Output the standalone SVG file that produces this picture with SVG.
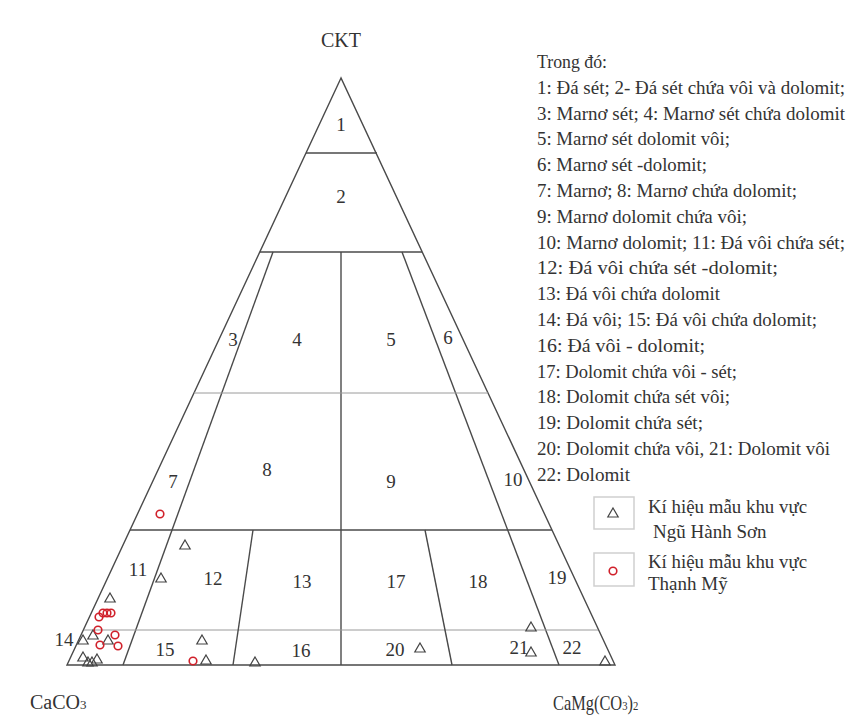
<svg xmlns="http://www.w3.org/2000/svg" xmlns:xlink="http://www.w3.org/1999/xlink" width="848" height="720" viewBox="0 0 848 720">
<style>
.ln{stroke:#4a4a4a;stroke-width:1.4;fill:none}
.lt{stroke:#9a9a9a;stroke-width:1;fill:none}
text{font-family:'Liberation Serif','Times New Roman',serif;fill:#333}
.num{font-size:19px;text-anchor:middle}
.lg{font-size:19px}
.ax{font-size:20px}
.tri{fill:none;stroke:#444;stroke-width:1.2}
.cir{fill:none;stroke:#d0202a;stroke-width:1.6}
.box{fill:#fff;stroke:#cfcfcf;stroke-width:1.5}
</style>
<defs>
<path id="t" d="M0,-5 L5.2,4 L-5.2,4 Z"/>
</defs>
<rect width="848" height="720" fill="#fff"/>
<g id="connectors">
<path class="ln" d="M341,78 L67,665 L615,665 Z"/>
<line class="ln" x1="306" y1="153" x2="377" y2="153"/>
<line class="ln" x1="260" y1="252" x2="422" y2="252"/>
<line class="ln" x1="341" y1="252" x2="341" y2="665"/>
<line class="ln" x1="273" y1="252" x2="123" y2="665"/>
<line class="ln" x1="402" y1="252" x2="559" y2="665"/>
<line class="lt" x1="194" y1="393" x2="488" y2="393"/>
<line class="ln" x1="130" y1="530" x2="552" y2="530"/>
<line class="lt" x1="84" y1="630" x2="598" y2="630"/>
<line class="ln" x1="253" y1="530" x2="233" y2="665"/>
<line class="ln" x1="425" y1="530" x2="452" y2="665"/>
</g>
<g id="labels">
<text class="num" x="341" y="131">1</text>
<text class="num" x="341" y="203">2</text>
<text class="num" x="233" y="346">3</text>
<text class="num" x="297" y="346">4</text>
<text class="num" x="391" y="346">5</text>
<text class="num" x="448" y="344">6</text>
<text class="num" x="173" y="488">7</text>
<text class="num" x="267" y="476">8</text>
<text class="num" x="391" y="488">9</text>
<text class="num" x="513" y="486">10</text>
<text class="num" x="138" y="576">11</text>
<text class="num" x="213" y="585">12</text>
<text class="num" x="302" y="588">13</text>
<text class="num" x="64" y="646">14</text>
<text class="num" x="165" y="656">15</text>
<text class="num" x="301" y="657">16</text>
<text class="num" x="396" y="588">17</text>
<text class="num" x="478" y="588">18</text>
<text class="num" x="557" y="584">19</text>
<text class="num" x="395" y="656">20</text>
<text class="num" x="519" y="654">21</text>
<text class="num" x="572" y="654">22</text>
</g>
<g id="axes">
<text class="ax" x="341" y="47" text-anchor="middle">CKT</text>
<text class="ax" x="30" y="709">CaCO<tspan font-size="13">3</tspan></text>
<text class="ax" transform="translate(553,710) scale(0.82,1)">CaMg(CO<tspan font-size="13">3</tspan>)<tspan font-size="13">2</tspan></text>
</g>
<g id="legend">
<text class="lg" x="537" y="68" textLength="70" lengthAdjust="spacingAndGlyphs">Trong đó:</text>
<text class="lg" x="537" y="94" textLength="308" lengthAdjust="spacingAndGlyphs">1: Đá sét; 2- Đá sét chứa vôi và dolomit;</text>
<text class="lg" x="537" y="120" textLength="308" lengthAdjust="spacingAndGlyphs">3: Marnơ sét; 4: Marnơ sét chứa dolomit</text>
<text class="lg" x="537" y="145" textLength="193" lengthAdjust="spacingAndGlyphs">5: Marnơ sét dolomit vôi;</text>
<text class="lg" x="537" y="171" textLength="170" lengthAdjust="spacingAndGlyphs">6: Marnơ sét -dolomit;</text>
<text class="lg" x="537" y="197" textLength="260" lengthAdjust="spacingAndGlyphs">7: Marnơ; 8: Marnơ chứa dolomit;</text>
<text class="lg" x="537" y="223" textLength="210" lengthAdjust="spacingAndGlyphs">9: Marnơ dolomit chứa vôi;</text>
<text class="lg" x="537" y="249" textLength="308" lengthAdjust="spacingAndGlyphs">10: Marnơ dolomit; 11: Đá vôi chứa sét;</text>
<text class="lg" x="537" y="274" textLength="241" lengthAdjust="spacingAndGlyphs">12: Đá vôi chứa sét -dolomit;</text>
<text class="lg" x="537" y="300" textLength="183" lengthAdjust="spacingAndGlyphs">13: Đá vôi chứa dolomit</text>
<text class="lg" x="537" y="326" textLength="280" lengthAdjust="spacingAndGlyphs">14: Đá vôi; 15: Đá vôi chứa dolomit;</text>
<text class="lg" x="537" y="352" textLength="168" lengthAdjust="spacingAndGlyphs">16: Đá vôi - dolomit;</text>
<text class="lg" x="537" y="378" textLength="200" lengthAdjust="spacingAndGlyphs">17: Dolomit chứa vôi - sét;</text>
<text class="lg" x="537" y="403" textLength="193" lengthAdjust="spacingAndGlyphs">18: Dolomit chứa sét vôi;</text>
<text class="lg" x="537" y="429" textLength="166" lengthAdjust="spacingAndGlyphs">19: Dolomit chứa sét;</text>
<text class="lg" x="537" y="455" textLength="293" lengthAdjust="spacingAndGlyphs">20: Dolomit chứa vôi, 21: Dolomit vôi</text>
<text class="lg" x="537" y="481" textLength="93" lengthAdjust="spacingAndGlyphs">22: Dolomit</text>
</g>
<g id="legend-keys">
<rect class="box" x="594" y="497" width="40" height="32"/>
<use href="#t" class="tri" x="613" y="513"/>
<text class="lg" x="648" y="513" textLength="159" lengthAdjust="spacingAndGlyphs">Kí hiệu mẫu khu vực</text>
<text class="lg" x="653" y="538">Ngũ Hành Sơn</text>
<rect class="box" x="594" y="553" width="40" height="33"/>
<circle class="cir" cx="613" cy="571" r="3.8"/>
<text class="lg" x="648" y="568" textLength="159" lengthAdjust="spacingAndGlyphs">Kí hiệu mẫu khu vực</text>
<text class="lg" x="648" y="590">Thạnh Mỹ</text>
</g>
<g id="samples-ngu-hanh-son">
<use href="#t" class="tri" x="185" y="545"/>
<use href="#t" class="tri" x="161" y="578"/>
<use href="#t" class="tri" x="110" y="598"/>
<use href="#t" class="tri" x="83" y="640"/>
<use href="#t" class="tri" x="93" y="635"/>
<use href="#t" class="tri" x="108" y="640"/>
<use href="#t" class="tri" x="83" y="657"/>
<use href="#t" class="tri" x="88" y="662"/>
<use href="#t" class="tri" x="92" y="662"/>
<use href="#t" class="tri" x="97" y="659"/>
<use href="#t" class="tri" x="202" y="640"/>
<use href="#t" class="tri" x="206" y="660"/>
<use href="#t" class="tri" x="255" y="662"/>
<use href="#t" class="tri" x="420" y="648"/>
<use href="#t" class="tri" x="531" y="627"/>
<use href="#t" class="tri" x="531" y="652"/>
<use href="#t" class="tri" x="605" y="661"/>
</g>
<g id="samples-thanh-my">
<circle class="cir" cx="160" cy="514" r="3.8"/>
<circle class="cir" cx="99" cy="617" r="3.8"/>
<circle class="cir" cx="103" cy="613" r="3.8"/>
<circle class="cir" cx="107" cy="613" r="3.8"/>
<circle class="cir" cx="111" cy="613" r="3.8"/>
<circle class="cir" cx="98" cy="630" r="3.8"/>
<circle class="cir" cx="115" cy="635" r="3.8"/>
<circle class="cir" cx="118" cy="646" r="3.8"/>
<circle class="cir" cx="100" cy="645" r="3.8"/>
<circle class="cir" cx="193" cy="661" r="3.8"/>
</g>
</svg>
